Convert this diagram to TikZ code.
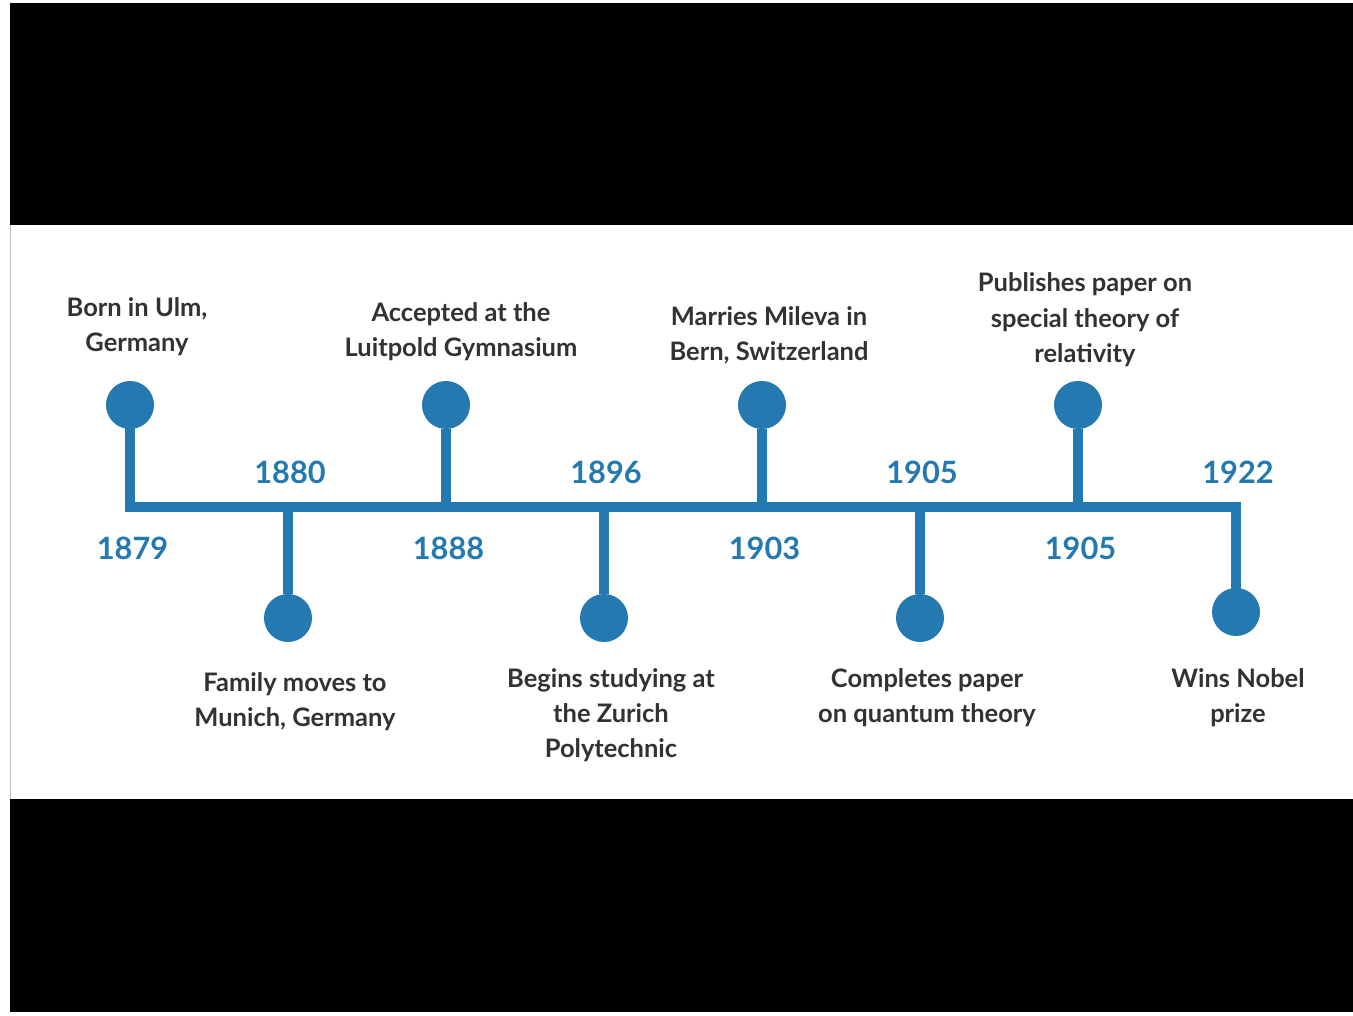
\documentclass[tikz,border=0pt]{standalone}
\usepackage{fontspec}
\setmainfont{Lato}
\usetikzlibrary{positioning}
\definecolor{lineblue}{RGB}{36,121,176}
\definecolor{textgray}{RGB}{50,50,50}

\begin{document}
\begin{tikzpicture}[
	dot/.style={circle,fill=lineblue,minimum size=0.96cm,inner sep=0},
	stem/.style={draw=lineblue,line width=0.2cm},
	year/.style={text=lineblue,font=\fontsize{17.5}{18}\selectfont\bfseries},
	event/.style={align=center,text=textgray,font=\fontsize{14.5}{20}\selectfont\bfseries,xshift=0.14cm}]
	%FRAME
	\useasboundingbox (0,0) rectangle (27.06,20.3);
	\fill[white] (0,0) rectangle (27.06,20.3);
	\fill[black] (0.2,15.8) rectangle (27.06,20.24);
	\fill[black] (0.2,0.06) rectangle (27.06,4.32);
	\draw[gray!50,thin] (0.2,4.32)--(0.2,15.8);
	
	%DOTS
	\foreach \n/\x/\y in {a/2.6/12.2, b/5.76/7.94, c/8.92/12.2, d/12.08/7.94, e/15.24/12.2, f/18.4/7.94, g/21.56/12.2, h/24.72/8.06}
	{
		\node[dot] (dot-\n) at (\x,\y) {};
		\coordinate (base-\n) at (\x,10.16);
	}
	
	%LINE
	\draw[stem,line join=miter] (dot-a.center)--(base-a)--(base-h)--(dot-h.center);
	\foreach \n in {b,c,d,e,f,g} \draw[stem] (base-\n)--(dot-\n);
	
	%YEARS
	\foreach \n/\t in {a/1879, c/1888, e/1903, g/1905} \node[year,yshift=-0.82cm,xshift=0.05cm] (year-\n) at (base-\n) {\t};
	\foreach \n/\t in {b/1880, d/1896, f/1905, h/1922} \node[year,yshift=0.7cm,xshift=0.04cm] (year-\n) at (base-\n) {\t};
	
	%EVENTS ABOVE
	\node[event,above=0.38cm of dot-a] (event-a) {Born in Ulm,\\Germany};
	\node[event,above=0.28cm of dot-c,xshift=0.16cm] (event-c) {Accepted at the\\Luitpold Gymnasium};
	\node[event,above=0.2cm of dot-e] (event-e) {Marries Mileva in\\Bern, Switzerland};
	\node[event,above=0.16cm of dot-g] (event-g) {Publishes paper on\\special theory of\\relativity};
	
	%EVENTS BELOW
	\node[event,below=0.48cm of dot-b] (event-b) {Family moves to\\Munich, Germany};
	\node[event,below=0.4cm of dot-d] (event-d) {Begins studying at\\the Zurich\\Polytechnic};
	\node[event,below=0.4cm of dot-f] (event-f) {Completes paper\\on quantum theory};
	\node[event,below=0.52cm of dot-h,xshift=-0.1cm] (event-h) {Wins Nobel\\prize};
\end{tikzpicture}
\end{document}
